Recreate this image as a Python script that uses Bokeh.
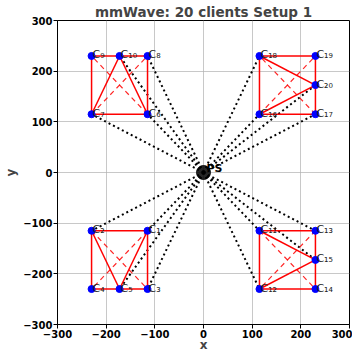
from bokeh.plotting import figure
from bokeh.models import ColumnDataSource, Range1d, FixedTicker, CustomJSTickFormatter
from bokeh.embed import file_html
from bokeh.resources import INLINE
from bokeh.core.properties import value

# ---- data ----
client_ids = list(range(1, 21))
client_x = [-115, -230, -115, -230, -172.5,
            -115, -230, -115, -230, -172.5,
            115, 115, 230, 230, 230,
            115, 230, 115, 230, 230]
client_y = [-115, -115, -230, -230, -230,
            115, 115, 230, 230, 230,
            -115, -230, -115, -230, -172.5,
            115, 115, 230, 230, 172.5]
ps_x = [0]
ps_y = [0]
ps_links = [7, 6, 10, 8, 18, 16, 20, 17, 2, 1, 5, 3, 13, 15, 11, 12]
squares = [[2, 1, 3, 4], [7, 6, 8, 9], [11, 13, 14, 12], [16, 17, 19, 18]]
triangle_edges = [(5, 2), (5, 1), (10, 7), (10, 6), (15, 11), (15, 12), (20, 18), (20, 16)]
ticks = [-300, -200, -100, 0, 100, 200, 300]

SUB = str.maketrans("0123456789", "₀₁₂₃₄₅₆₇₈₉")
names = ["C" + str(i).translate(SUB) for i in client_ids]

def pos(i):
    return client_x[i - 1], client_y[i - 1]

FONT = "DejaVu Sans"

p = figure(width=352, height=354, output_backend="svg", toolbar_location=None,
           x_range=Range1d(-300, 300), y_range=Range1d(-300, 300),
           min_border_left=57, min_border_right=3, min_border_top=20, min_border_bottom=0)

p.title.text = "mmWave: 20 clients Setup 1"
p.title.text_font = FONT
p.title.text_font_size = "13.5px"
p.title.text_font_style = "bold"
p.title.align = "center"
p.title.offset = 0
p.title.standoff = 2

# dotted PS links
lx0, ly0, lx1, ly1 = [], [], [], []
for c in ps_links:
    x, y = pos(c)
    lx0.append(ps_x[0]); ly0.append(ps_y[0]); lx1.append(x); ly1.append(y)
p.segment(lx0, ly0, lx1, ly1, line_color="black", line_width=2, line_dash="2 3")

# squares (solid) and diagonals (dashed)
sx0, sy0, sx1, sy1 = [], [], [], []
dx0, dy0, dx1, dy1 = [], [], [], []
for sq in squares:
    for k in range(4):
        a, b = pos(sq[k]), pos(sq[(k + 1) % 4])
        sx0.append(a[0]); sy0.append(a[1]); sx1.append(b[0]); sy1.append(b[1])
    for a_i, b_i in [(sq[0], sq[2]), (sq[1], sq[3])]:
        a, b = pos(a_i), pos(b_i)
        dx0.append(a[0]); dy0.append(a[1]); dx1.append(b[0]); dy1.append(b[1])
for a_i, b_i in triangle_edges:
    a, b = pos(a_i), pos(b_i)
    sx0.append(a[0]); sy0.append(a[1]); sx1.append(b[0]); sy1.append(b[1])

p.segment(dx0, dy0, dx1, dy1, line_color="red", line_width=1.2, line_dash="5 4", line_alpha=0.85)
p.segment(sx0, sy0, sx1, sy1, line_color="red", line_width=1.5)

src = ColumnDataSource(dict(x=client_x, y=client_y, name=names))
p.scatter("x", "y", source=src, size=7, color="blue")
p.text("x", "y", text="name", source=src, x_offset=1, y_offset=-1,
       text_font=value(FONT), text_font_size="11px", text_baseline="alphabetic",
       text_color="#222222")

p.scatter(ps_x, ps_y, size=14, color="black", fill_alpha=0.85, line_alpha=0.85)
p.text(ps_x, ps_y, text=["PS"], x_offset=3, y_offset=-4,
       text_font=value(FONT), text_font_size="11px", text_font_style="bold",
       text_baseline="alphabetic")

fmt = CustomJSTickFormatter(code="return tick < 0 ? '\u2212' + Math.abs(tick) : '' + tick;")
for ax in [p.xaxis[0], p.yaxis[0]]:
    ax.ticker = FixedTicker(ticks=ticks)
    ax.formatter = fmt
    ax.axis_label_text_font = FONT
    ax.axis_label_text_font_size = "12px"
    ax.axis_label_text_font_style = "bold"
    ax.axis_label_standoff = 0
    ax.major_label_text_font = FONT
    ax.major_label_text_font_size = "10px"
    ax.major_label_text_font_style = "bold"
    ax.major_label_standoff = 1
    ax.major_tick_out = 4
    ax.major_tick_in = 0
    ax.minor_tick_out = 0
    ax.minor_tick_in = 0
    ax.axis_line_color = "black"
    ax.major_tick_line_color = "black"
    ax.major_label_text_color = "black"
p.yaxis[0].axis_label = "y"
p.yaxis[0].axis_label_standoff = 2
p.xaxis[0].axis_label = "x"
p.xaxis[0].axis_label_standoff = -3

p.grid.grid_line_color = "#b0b0b0"
p.grid.grid_line_alpha = 0.7
p.grid.grid_line_width = 1
p.outline_line_color = "black"
p.outline_line_width = 1
p.outline_line_alpha = 1

open("out.html", "w").write(file_html(p, INLINE))
